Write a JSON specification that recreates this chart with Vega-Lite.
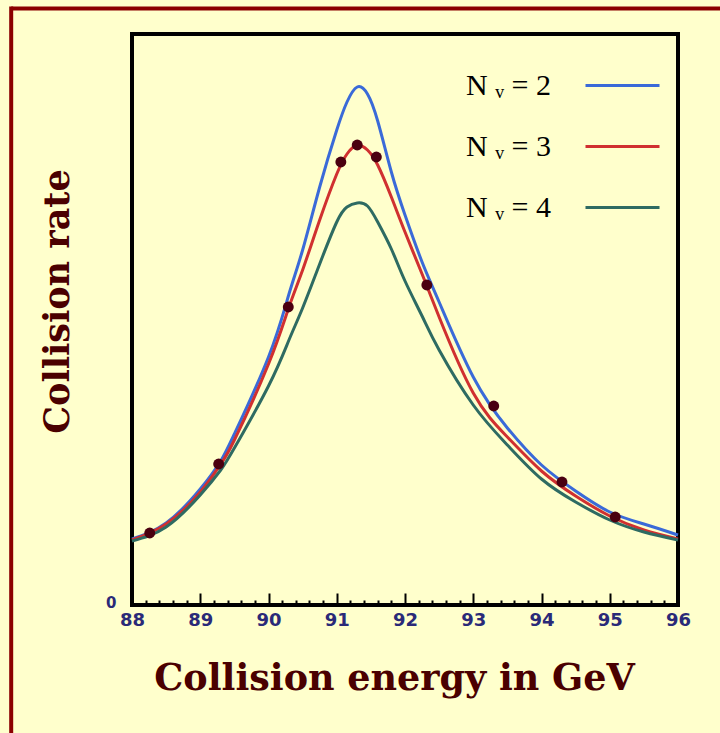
{
  "$schema": "https://vega.github.io/schema/vega-lite/v6.json",
  "width": 546,
  "height": 571,
  "autosize": {"type": "none"},
  "padding": {"left": 132, "top": 34, "right": 42, "bottom": 128},
  "background": "#FFFFCC",
  "config": {
    "view": {"stroke": "#000000", "strokeWidth": 4, "fill": "#FFFFCC"},
    "axis": {"labelOverlap": false}
  },
  "datasets": {
    "curves": [
      {"E": 88, "rate": 63, "N": "2"}, {"E": 88.5, "rate": 79, "N": "2"}, {"E": 89, "rate": 113, "N": "2"}, {"E": 89.3, "rate": 141, "N": "2"}, {"E": 89.5, "rate": 168, "N": "2"}, {"E": 90, "rate": 245, "N": "2"}, {"E": 90.3, "rate": 308, "N": "2"}, {"E": 90.5, "rate": 352, "N": "2"}, {"E": 90.75, "rate": 415, "N": "2"}, {"E": 91, "rate": 472, "N": "2"}, {"E": 91.15, "rate": 500, "N": "2"}, {"E": 91.3, "rate": 515, "N": "2"}, {"E": 91.45, "rate": 508, "N": "2"}, {"E": 91.6, "rate": 481, "N": "2"}, {"E": 91.8, "rate": 430, "N": "2"}, {"E": 92, "rate": 387, "N": "2"}, {"E": 92.25, "rate": 340, "N": "2"}, {"E": 92.5, "rate": 300, "N": "2"}, {"E": 93, "rate": 225, "N": "2"}, {"E": 93.5, "rate": 174, "N": "2"}, {"E": 94, "rate": 137, "N": "2"}, {"E": 94.5, "rate": 111, "N": "2"}, {"E": 95, "rate": 90, "N": "2"}, {"E": 95.5, "rate": 78, "N": "2"}, {"E": 96, "rate": 67, "N": "2"},
      {"E": 88, "rate": 62, "N": "3"}, {"E": 88.5, "rate": 78, "N": "3"}, {"E": 89, "rate": 110, "N": "3"}, {"E": 89.3, "rate": 138, "N": "3"}, {"E": 89.5, "rate": 162, "N": "3"}, {"E": 90, "rate": 238, "N": "3"}, {"E": 90.3, "rate": 295, "N": "3"}, {"E": 90.5, "rate": 332, "N": "3"}, {"E": 90.75, "rate": 382, "N": "3"}, {"E": 91, "rate": 428, "N": "3"}, {"E": 91.15, "rate": 448, "N": "3"}, {"E": 91.3, "rate": 457, "N": "3"}, {"E": 91.45, "rate": 452, "N": "3"}, {"E": 91.6, "rate": 437, "N": "3"}, {"E": 91.8, "rate": 405, "N": "3"}, {"E": 92, "rate": 370, "N": "3"}, {"E": 92.25, "rate": 328, "N": "3"}, {"E": 92.5, "rate": 285, "N": "3"}, {"E": 93, "rate": 209, "N": "3"}, {"E": 93.5, "rate": 165, "N": "3"}, {"E": 94, "rate": 131, "N": "3"}, {"E": 94.5, "rate": 106, "N": "3"}, {"E": 95, "rate": 86, "N": "3"}, {"E": 95.5, "rate": 72, "N": "3"}, {"E": 96, "rate": 63, "N": "3"},
      {"E": 88, "rate": 61, "N": "4"}, {"E": 88.5, "rate": 75, "N": "4"}, {"E": 89, "rate": 107, "N": "4"}, {"E": 89.3, "rate": 132, "N": "4"}, {"E": 89.5, "rate": 154, "N": "4"}, {"E": 90, "rate": 216, "N": "4"}, {"E": 90.3, "rate": 262, "N": "4"}, {"E": 90.5, "rate": 294, "N": "4"}, {"E": 90.75, "rate": 338, "N": "4"}, {"E": 91, "rate": 380, "N": "4"}, {"E": 91.15, "rate": 395, "N": "4"}, {"E": 91.3, "rate": 399, "N": "4"}, {"E": 91.45, "rate": 396, "N": "4"}, {"E": 91.6, "rate": 380, "N": "4"}, {"E": 91.8, "rate": 353, "N": "4"}, {"E": 92, "rate": 321, "N": "4"}, {"E": 92.25, "rate": 286, "N": "4"}, {"E": 92.5, "rate": 252, "N": "4"}, {"E": 93, "rate": 197, "N": "4"}, {"E": 93.5, "rate": 157, "N": "4"}, {"E": 94, "rate": 123, "N": "4"}, {"E": 94.5, "rate": 100, "N": "4"}, {"E": 95, "rate": 82, "N": "4"}, {"E": 95.5, "rate": 70, "N": "4"}, {"E": 96, "rate": 62, "N": "4"}
    ],
    "measurements": [
      {"E": 88.26, "rate": 69}, {"E": 89.27, "rate": 138}, {"E": 90.29, "rate": 295}, {"E": 91.06, "rate": 440}, {"E": 91.3, "rate": 457}, {"E": 91.58, "rate": 445}, {"E": 92.32, "rate": 317}, {"E": 93.3, "rate": 196}, {"E": 94.3, "rate": 120}, {"E": 95.08, "rate": 85}
    ]
  },
  "resolve": {"axis": {"x": "independent"}},
  "layer": [
    {
      "data": {"name": "curves"},
      "mark": {"type": "line", "strokeWidth": 3, "interpolate": "natural"},
      "encoding": {
        "x": {
          "field": "E", "type": "quantitative",
          "scale": {"domain": [88, 96], "nice": false, "zero": false},
          "axis": {
            "orient": "bottom",
            "values": [88, 89, 90, 91, 92, 93, 94, 95, 96],
            "tickSize": -12,
            "tickWidth": 2,
            "tickColor": "#000000",
            "domain": false,
            "grid": false,
            "format": "d",
            "labelFont": "DejaVu Sans",
            "labelFontSize": 18,
            "labelFontWeight": "bold",
            "labelColor": "#2a2a78",
            "labelPadding": 18,
            "labelFlush": false,
            "labelOverlap": false,
            "title": "Collision energy in GeV",
            "titleFont": "DejaVu Serif",
            "titleFontSize": 36.5,
            "titleFontWeight": "bold",
            "titleColor": "#4a0000",
            "titleX": 262,
            "titleY": 84,
            "titleAnchor": "middle",
            "titleAlign": "center",
            "titleBaseline": "alphabetic"
          }
        },
        "y": {
          "field": "rate", "type": "quantitative",
          "scale": {"domain": [-3, 568], "nice": false, "zero": false},
          "axis": {
            "values": [0],
            "tickSize": 0,
            "domain": false,
            "grid": false,
            "labelFont": "DejaVu Sans",
            "labelFontSize": 15,
            "labelFontWeight": "bold",
            "labelColor": "#2a2a78",
            "labelPadding": 16,
            "title": "Collision rate",
            "titleFont": "DejaVu Serif",
            "titleFontSize": 35,
            "titleFontWeight": "bold",
            "titleColor": "#4a0000",
            "titleAngle": -90,
            "titleX": -64,
            "titleY": 267,
            "titleAlign": "center",
            "titleBaseline": "alphabetic"
          }
        },
        "color": {
          "field": "N", "type": "nominal",
          "scale": {"domain": ["2", "3", "4"], "range": ["#3a6ad8", "#d03030", "#2e6b62"]},
          "legend": {
            "orient": "none",
            "legendX": 452,
            "legendY": 13,
            "title": null,
            "symbolType": "stroke",
            "symbolSize": 5476,
            "symbolStrokeWidth": 3,
            "labelAlign": "right",
            "labelOffset": -110,
            "labelFont": "Liberation Serif",
            "labelFontSize": 30,
            "labelColor": "#000000",
            "labelLimit": 0,
            "labelExpr": "'N \u1d65 = ' + datum.label",
            "rowPadding": 7,
            "padding": 0
          }
        }
      }
    },
    {
      "data": {"name": "measurements"},
      "mark": {"type": "point", "filled": true, "shape": "circle", "size": 120, "color": "#4a0010", "opacity": 1},
      "encoding": {
        "x": {
          "field": "E", "type": "quantitative",
          "axis": {
            "orient": "bottom",
            "values": [88.2, 88.4, 88.6, 88.8, 89.2, 89.4, 89.6, 89.8, 90.2, 90.4, 90.6, 90.8, 91.2, 91.4, 91.6, 91.8, 92.2, 92.4, 92.6, 92.8, 93.2, 93.4, 93.6, 93.8, 94.2, 94.4, 94.6, 94.8, 95.2, 95.4, 95.6, 95.8],
            "tickSize": -5,
            "tickWidth": 2,
            "tickColor": "#000000",
            "domain": false,
            "grid": false,
            "labels": false,
            "title": null
          }
        },
        "y": {"field": "rate", "type": "quantitative"}
      }
    },
    {
      "data": {"values": [{}]},
      "mark": {"type": "rule", "color": "#8b0000", "strokeWidth": 4, "clip": false},
      "encoding": {
        "x": {"datum": 86.23, "axis": null},
        "x2": {"datum": 97.5},
        "y": {"datum": 593.5}
      }
    },
    {
      "data": {"values": [{}]},
      "mark": {"type": "rule", "color": "#8b0000", "strokeWidth": 4, "clip": false},
      "encoding": {
        "x": {"datum": 86.23, "axis": null},
        "y": {"datum": 595.5},
        "y2": {"datum": -140}
      }
    }
  ]
}
